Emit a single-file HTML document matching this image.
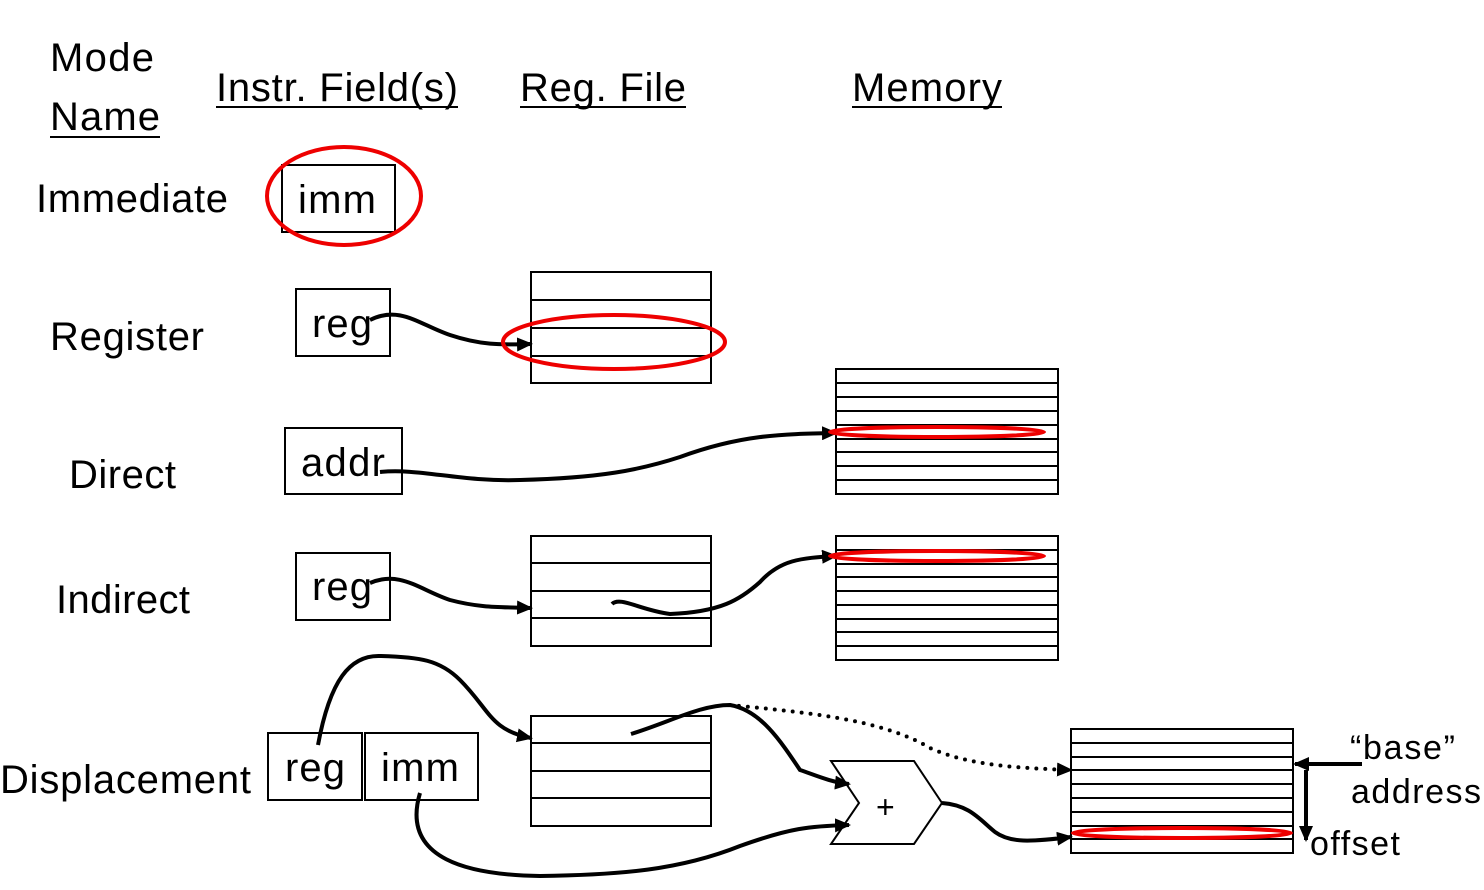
<!DOCTYPE html>
<html><head><style>
html,body{margin:0;padding:0;background:#fff;}
svg{display:block;}
text{font-family:"Liberation Sans",Arial,sans-serif;fill:#000;}
</style></head><body>
<svg width="1484" height="890" viewBox="0 0 1484 890" xmlns="http://www.w3.org/2000/svg">
<defs>
<marker id="ar" markerWidth="16" markerHeight="14" refX="14" refY="7" orient="auto" markerUnits="userSpaceOnUse">
<path d="M0,0 L16,7 L0,14 z" fill="#000"/></marker>
</defs>
<g font-size="40">
<text x="50" y="71" textLength="104">Mode</text>
<text x="50" y="130" textLength="110">Name</text>
<text x="216" y="101" textLength="242">Instr. Field(s)</text>
<text x="520" y="101" textLength="166">Reg. File</text>
<text x="852" y="101" textLength="150">Memory</text>
<text x="36" y="212" textLength="192">Immediate</text>
<text x="50" y="350" textLength="154">Register</text>
<text x="69" y="488" textLength="107">Direct</text>
<text x="56" y="613" textLength="134">Indirect</text>
<text x="0" y="793" textLength="251">Displacement</text>
</g>
<g stroke="#000" stroke-width="2">
<line x1="50" y1="137" x2="160" y2="137"/>
<line x1="216" y1="107" x2="458" y2="107"/>
<line x1="520" y1="107" x2="686" y2="107"/>
<line x1="852" y1="107" x2="1002" y2="107"/>
</g>
<g fill="#fff" stroke="#000" stroke-width="2">
<rect x="282" y="165" width="113" height="67"/>
<rect x="296" y="289" width="94" height="67"/>
<rect x="285" y="428" width="117" height="66"/>
<rect x="296" y="553" width="94" height="67"/>
<rect x="268" y="733" width="94" height="67"/>
<rect x="365" y="733" width="113" height="67"/>
<rect x="531" y="272" width="180" height="111"/>
<rect x="531" y="536" width="180" height="110"/>
<rect x="531" y="716" width="180" height="110"/>
<rect x="836" y="369" width="222" height="125"/>
<rect x="836" y="536" width="222" height="124"/>
<rect x="1071" y="729" width="222" height="124"/>
<polygon points="831,761 914,761 942,803 914,844 831,844 859,803"/>
</g>
<g stroke="#000" stroke-width="2">
<path d="M531 300H711M531 328H711M531 356H711"/>
<path d="M531 563H711M531 591H711M531 618H711"/>
<path d="M531 743H711M531 771H711M531 798H711"/>
<path d="M836 383H1058M836 397H1058M836 411H1058M836 425H1058M836 439H1058M836 452H1058M836 466H1058M836 480H1058"/>
<path d="M836 550H1058M836 564H1058M836 577H1058M836 591H1058M836 605H1058M836 619H1058M836 632H1058M836 646H1058"/>
<path d="M1071 743H1293M1071 757H1293M1071 770H1293M1071 784H1293M1071 798H1293M1071 812H1293M1071 826H1293M1071 839H1293"/>
</g>
<g font-size="40">
<text x="298" y="213" textLength="78">imm</text>
<text x="312" y="337" textLength="60">reg</text>
<text x="301" y="476" textLength="84">addr</text>
<text x="312" y="600" textLength="60">reg</text>
<text x="285" y="781" textLength="60">reg</text>
<text x="381" y="781" textLength="78">imm</text>
</g>
<text x="876" y="818" font-size="32">+</text>
<g font-size="34">
<text x="1350" y="759" textLength="105">“base”</text>
<text x="1351" y="803" textLength="130">address</text>
<text x="1310" y="855" textLength="90">offset</text>
</g>
<g fill="none" stroke="#000" stroke-width="4">
<path d="M370 320 C400 305 420 325 450 335 C480 345 500 345 531 344" marker-end="url(#ar)"/>
<path d="M380 472 C420 468 460 482 520 480 C600 478 640 470 680 457 C740 435 780 434 836 433" marker-end="url(#ar)"/>
<path d="M370 583 C400 570 420 590 450 600 C480 608 500 607 531 608" marker-end="url(#ar)"/>
<path d="M612 604 C620 596 640 610 670 614 C720 612 740 600 760 582 C780 560 800 558 836 556" marker-end="url(#ar)"/>
<path d="M318 745 C330 680 350 655 380 656 C420 657 440 660 460 680 C490 710 490 730 531 738" marker-end="url(#ar)"/>
<path d="M631 734 C670 722 700 705 730 705 C760 710 780 740 800 770 C815 775 830 782 849 784" marker-end="url(#ar)"/>
<path d="M420 793 C400 860 470 875 540 876 C620 875 680 870 740 846 C790 828 810 826 849 825" marker-end="url(#ar)"/>
<path d="M942 803 C970 805 980 820 995 832 C1010 843 1030 842 1071 837" marker-end="url(#ar)"/>
<path d="M1362 764 H1295" marker-end="url(#ar)"/>
<path d="M1306 770 V840" marker-end="url(#ar)"/>
</g>
<path d="M730 705 C800 712 880 718 930 748 C970 766 1020 768 1071 770" fill="none" stroke="#000" stroke-width="4" stroke-dasharray="0 9" stroke-linecap="round" marker-end="url(#ar)"/>
<g fill="none" stroke="#e00" stroke-width="4">
<ellipse cx="344" cy="196" rx="77" ry="49"/>
<ellipse cx="614" cy="342" rx="111" ry="27"/>
<ellipse cx="937" cy="432" rx="107" ry="5"/>
<ellipse cx="937" cy="556" rx="107" ry="5"/>
<ellipse cx="1182" cy="833" rx="109" ry="5"/>
</g>
</svg>
</body></html>
